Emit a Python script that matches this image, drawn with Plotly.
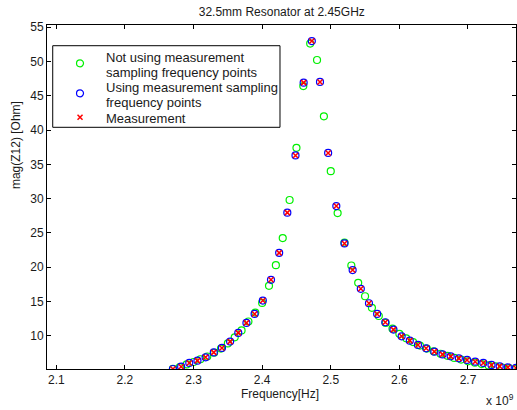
import plotly.graph_objects as go

# Measurement frequency points (GHz) and values
meas_freq = [2.2700, 2.2819, 2.2938, 2.3057, 2.3176, 2.3295, 2.3414, 2.3533, 2.3652, 2.3771,
             2.3890, 2.4010, 2.4129, 2.4248, 2.4367, 2.4486, 2.4605, 2.4724, 2.4843, 2.4962,
             2.5081, 2.5200, 2.5319, 2.5438, 2.5557, 2.5676, 2.5795, 2.5914, 2.6033, 2.6152,
             2.6271, 2.6390, 2.6510, 2.6629, 2.6748, 2.6867, 2.6986, 2.7105, 2.7224, 2.7343,
             2.7462, 2.7581, 2.7700]
meas_val = [5.18, 5.52, 6.06, 6.40, 6.88, 7.60, 8.25, 9.17, 10.44, 11.90,
            13.20, 15.15, 18.17, 22.10, 27.96, 36.30, 46.90, 52.96, 47.00, 36.66,
            28.92, 23.47, 19.60, 16.86, 14.76, 13.20, 11.99, 10.92, 9.94, 9.31,
            8.69, 8.19, 7.71, 7.31, 7.02, 6.73, 6.50, 6.25, 6.06, 5.77,
            5.56, 5.42, 5.33]
# Simulation using measurement sampling frequency points
sim_meas_val = [5.18, 5.52, 6.06, 6.40, 6.88, 7.60, 8.25, 9.17, 10.44, 11.90,
                13.20, 15.15, 18.17, 22.10, 27.96, 36.30, 46.90, 52.96, 47.00, 36.66,
                28.92, 23.47, 19.60, 16.86, 14.76, 13.20, 11.99, 10.92, 9.94, 9.31,
                8.69, 8.19, 7.71, 7.31, 7.02, 6.73, 6.50, 6.25, 6.06, 5.77,
                5.56, 5.42, 5.33]
# Simulation not using measurement sampling frequency points
sim_freq = [2.27, 2.28, 2.29, 2.30, 2.31, 2.32, 2.33, 2.34, 2.35, 2.36,
            2.37, 2.38, 2.39, 2.40, 2.41, 2.42, 2.43, 2.44, 2.45, 2.46,
            2.47, 2.48, 2.49, 2.50, 2.51, 2.52, 2.53, 2.54, 2.55, 2.56,
            2.57, 2.58, 2.59, 2.60, 2.61, 2.62, 2.63, 2.64, 2.65, 2.66,
            2.67, 2.68, 2.69, 2.70, 2.71, 2.72, 2.73, 2.74, 2.75, 2.76, 2.77]
sim_val = [5.20, 5.45, 5.85, 6.20, 6.60, 7.00, 7.55, 8.15, 8.90, 9.80,
           10.80, 12.10, 13.40, 14.80, 17.30, 20.30, 24.25, 29.80, 37.40, 46.40,
           52.60, 50.20, 42.00, 34.00, 27.90, 23.60, 20.26, 17.74, 15.78, 14.10,
           12.90, 11.90, 11.05, 10.30, 9.65, 9.10, 8.60, 8.15, 7.75, 7.40,
           7.10, 6.80, 6.55, 6.30, 6.10, 5.90, 5.70, 5.55, 5.40, 5.30, 5.20]

x_ticks = [2.1, 2.2, 2.3, 2.4, 2.5, 2.6, 2.7]
x_tick_labels = ["2.1", "2.2", "2.3", "2.4", "2.5", "2.6", "2.7"]
y_ticks = [10, 15, 20, 25, 30, 35, 40, 45, 50, 55]

series_names = ["Not using measurement<br>sampling frequency points",
                "Using measurement sampling<br>frequency points",
                "Measurement"]
legend_lines = [["Not using measurement", "sampling frequency points"],
                ["Using measurement sampling", "frequency points"],
                ["Measurement"]]

FONT = "Arial, Liberation Sans, Helvetica, sans-serif"
GREEN, BLUE, RED = "#00f000", "#0000ff", "#ff0000"
TXT = "#1a1a1a"

fig = go.Figure()
fig.add_trace(go.Scatter(
    x=sim_freq, y=sim_val, mode="markers", name=series_names[0],
    marker=dict(symbol="circle-open", size=7, color=GREEN, line=dict(width=1.2))))
fig.add_trace(go.Scatter(
    x=meas_freq, y=sim_meas_val, mode="markers", name=series_names[1],
    marker=dict(symbol="circle-open", size=7, color=BLUE, line=dict(width=1.2))))
fig.add_trace(go.Scatter(
    x=meas_freq, y=meas_val, mode="markers", name=series_names[2],
    marker=dict(symbol="x-thin-open", size=5, color=RED, line=dict(width=1.5, color=RED))))

axis_common = dict(showline=True, linecolor="black", linewidth=1, mirror="ticks",
                   ticks="inside", ticklen=4, tickcolor="black", showgrid=False,
                   zeroline=False, tickfont=dict(family=FONT, size=12, color=TXT))

fig.update_layout(
    width=517, height=410,
    margin=dict(l=47, r=1, t=25, b=41),
    paper_bgcolor="white", plot_bgcolor="white",
    font=dict(family=FONT, size=12, color=TXT),
    title=dict(text="32.5mm Resonator at 2.45GHz", x=0.545, xanchor="center",
               y=0.971, yanchor="middle", font=dict(family=FONT, size=12, color=TXT)),
    xaxis=dict(range=[2.0864, 2.770], tickvals=x_ticks, ticktext=x_tick_labels, **axis_common),
    yaxis=dict(range=[5.18, 55.3], tickvals=y_ticks, **axis_common),
    showlegend=False,
)

# Axis titles
fig.add_annotation(text="Frequency[Hz]", xref="paper", yref="paper", x=0.497, y=-0.073,
                   xanchor="center", yanchor="middle", showarrow=False,
                   font=dict(family=FONT, size=12, color=TXT))
fig.add_annotation(text="x 10<sup>9</sup>", xref="paper", yref="paper", x=0.966, y=-0.09,
                   xanchor="center", yanchor="middle", showarrow=False,
                   font=dict(family=FONT, size=12, color=TXT))
fig.add_annotation(text="mag(Z12) [Ohm]", xref="paper", yref="paper", x=-0.066, y=0.651,
                   xanchor="center", yanchor="middle", showarrow=False, textangle=-90,
                   font=dict(family=FONT, size=12, color=TXT))

# MATLAB-style legend box
fig.add_shape(type="rect", xref="paper", yref="paper", x0=0.0122, x1=0.4968, y0=0.7026, y1=0.9398,
              line=dict(color="black", width=1), fillcolor="white", layer="above")
sym_x = 0.0704
sym_y = [0.8887, 0.8015, 0.7317]
for col, yy in zip([GREEN, BLUE], sym_y[:2]):
    fig.add_shape(type="circle", xref="paper", yref="paper", xsizemode="pixel", ysizemode="pixel",
                  xanchor=sym_x, yanchor=yy, x0=-3.5, x1=3.5, y0=-3.5, y1=3.5,
                  line=dict(color=col, width=1.2), layer="above")
for (a, b, c, d) in [(-2.5, -2.5, 2.5, 2.5), (-2.5, 2.5, 2.5, -2.5)]:
    fig.add_shape(type="line", xref="paper", yref="paper", xsizemode="pixel", ysizemode="pixel",
                  xanchor=sym_x, yanchor=sym_y[2], x0=a, y0=b, x1=c, y1=d,
                  line=dict(color=RED, width=1.5), layer="above")
line_y = [[0.9061, 0.8625], [0.8177, 0.7753], [0.7288]]
for lines, ys in zip(legend_lines, line_y):
    for t, yy in zip(lines, ys):
        fig.add_annotation(text=t, xref="paper", yref="paper", x=0.1215, y=yy,
                           xanchor="left", yanchor="middle", showarrow=False,
                           font=dict(family=FONT, size=13, color=TXT))

fig.write_html("out.html", config={"displayModeBar": False},
               post_script="document.body.style.margin='0';")
